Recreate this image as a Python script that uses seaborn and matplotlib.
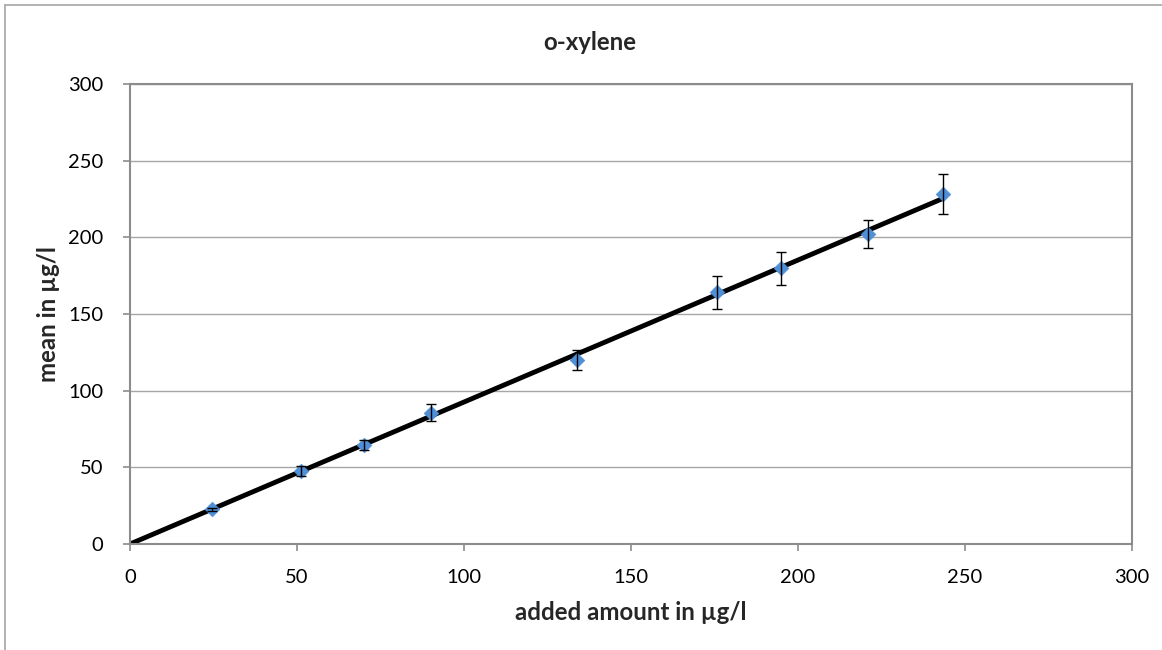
import numpy as np
import pandas as pd
import matplotlib
matplotlib.use("Agg")
import matplotlib.pyplot as plt
from matplotlib.lines import Line2D
import seaborn as sns

# ---- data ----
title = "o-xylene"
x_label = "added amount in µg/l"
y_label = "mean in µg/l"
added = [24.5, 51.1, 70.0, 90.0, 133.7, 175.6, 194.8, 221.1, 243.3]
mean = [22.6, 47.6, 64.4, 85.7, 120.0, 164.2, 179.8, 202.2, 228.1]
err = [1.2, 3.5, 3.3, 5.6, 6.3, 10.9, 10.9, 9.4, 12.9]
ticks = [0, 50, 100, 150, 200, 250, 300]

df = pd.DataFrame({"added": added, "mean": mean, "err": err})

# linear trendline through the origin (least squares)
slope = float(np.sum(df["added"] * df["mean"]) / np.sum(df["added"] ** 2))
trend = pd.DataFrame({"x": [0.0, df["added"].max()]})
trend["y"] = slope * trend["x"]

sns.set_theme(style="white")
plt.rcParams["font.family"] = ["Lato", "DejaVu Sans"]

W, H = 1162, 650
fig = plt.figure(figsize=(W / 100, H / 100), dpi=100)
ax = fig.add_axes([130 / W, 1 - 544 / H, (1132 - 130) / W, (544 - 84) / H])

gray = "#8c8c8c"
ax.set_xlim(0, 300)
ax.set_ylim(0, 300)
ax.set_xticks(ticks)
ax.set_yticks(ticks)
ax.yaxis.grid(True, color="#a6a6a6", linewidth=1.0)
ax.xaxis.grid(False)
ax.set_axisbelow(True)

sns.lineplot(data=trend, x="x", y="y", ax=ax, color="black", linewidth=3.5,
             zorder=2, legend=False)
sns.scatterplot(data=df, x="added", y="mean", ax=ax, marker="D", s=55,
                color="#4F8FD6", edgecolor="#4F8FD6", linewidth=0.5, zorder=3,
                legend=False)
ax.errorbar(df["added"], df["mean"], yerr=df["err"], fmt="none",
            ecolor="black", elinewidth=1.0, capsize=3.8, capthick=1.0, zorder=4)

for s in ax.spines.values():
    s.set_visible(True)
    s.set_color(gray)
    s.set_linewidth(1.5)

ax.tick_params(axis="both", direction="out", length=5, width=1.2, color=gray,
               labelsize=14.5, labelcolor="black", bottom=True, left=True)
ax.tick_params(axis="x", pad=13)
ax.tick_params(axis="y", pad=14)

ax.set_xlabel("")
ax.set_ylabel("")
fig.text(631 / W, 1 - 613 / H, x_label, ha="center", va="center",
         fontsize=17.3, fontweight="bold")
fig.text(49 / W, 1 - 314 / H, y_label, ha="center", va="center",
         rotation=90, fontsize=17.3, fontweight="bold")
fig.text(590 / W, 1 - 43 / H, title, ha="center", va="center",
         fontsize=17.3, fontweight="bold")

# outer chart-area frame (cut off at the right and bottom)
fig.add_artist(Line2D([5 / W, 5 / W], [0, 1 - 5 / H], transform=fig.transFigure,
                      color="#a6a6a6", linewidth=1.2))
fig.add_artist(Line2D([5 / W, 1], [1 - 5 / H, 1 - 5 / H], transform=fig.transFigure,
                      color="#a6a6a6", linewidth=1.2))

fig.savefig("out.png", dpi=100, facecolor="white")
